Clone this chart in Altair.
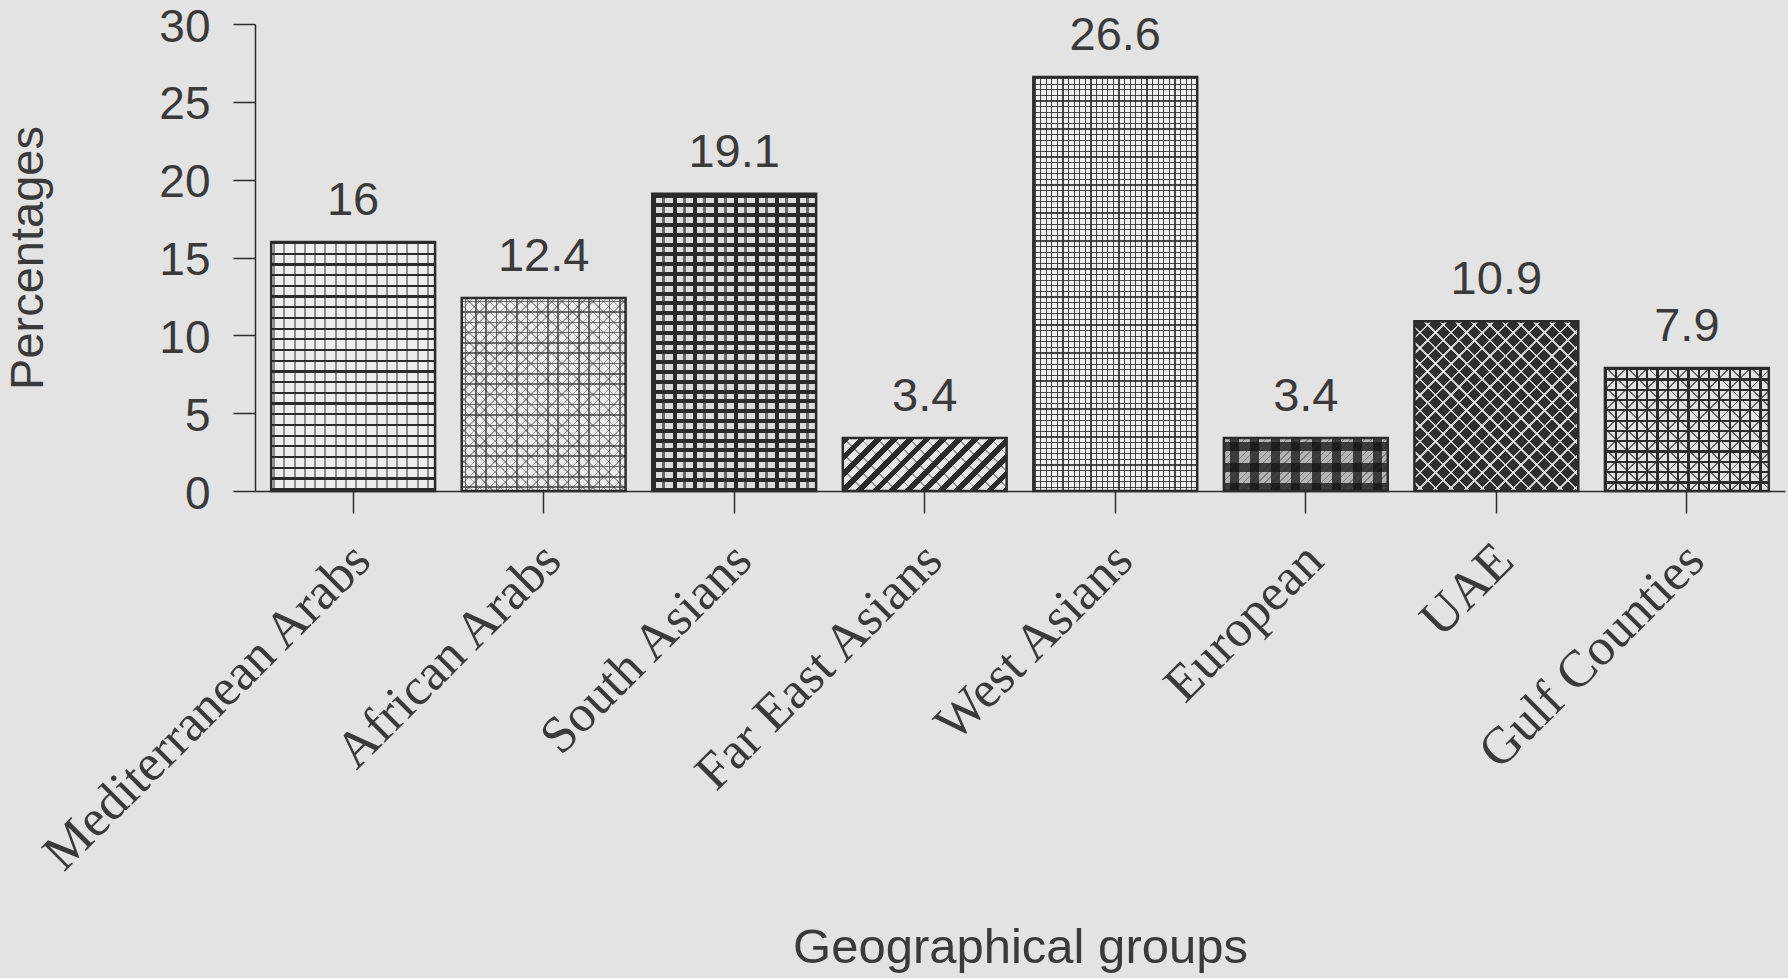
import math
import altair as alt
import pandas as pd

# ---------------- data ----------------
groups = ["Mediterranean Arabs", "African Arabs", "South Asians", "Far East Asians",
          "West Asians", "European", "UAE", "Gulf Counties"]
values = [16, 12.4, 19.1, 3.4, 26.6, 3.4, 10.9, 7.9]
y_ticks = [0, 5, 10, 15, 20, 25, 30]

df = pd.DataFrame({"group": groups, "value": values})

# ---------------- layout / style ----------------
PLOT_W, PLOT_H = 1530, 467
Y_MAX = 30
P_IN, P_OUT = 0.14, 0.085
STEP = PLOT_W / (len(groups) - P_IN + 2 * P_OUT)
BAR_W = STEP * (1 - P_IN)
PX_PER_UNIT = PLOT_H / Y_MAX

INK = "#2b2b2b"
TEXT = "#3a3a3a"
BG = "#e3e3e3"
CLEAR = "rgba(0,0,0,0)"

base_fill = ["#ededed", "#ececec", "#dcdcdc", "#e6e6e6",
             "#efefef", "#b4b4b4", "#2f2f2f", "#e2e2e2"]

# pattern overlays: (direction, period px, thickness px, colour, phase px)
overlays = [
    [("h", 10.7, 2.2, INK, 0), ("v", 10.25, 2.0, "rgba(43,43,43,0.5)", 2)],
    [("h", 10.3, 1.5, "rgba(43,43,43,0.65)", 3), ("v", 10.3, 1.5, "rgba(43,43,43,0.65)", 3),
     ("d1", 7.3, 1.0, "rgba(43,43,43,0.4)", 0), ("d2", 7.3, 1.0, "rgba(43,43,43,0.4)", 0)],
    [("h", 9.8, 4.0, INK, 0), ("v", 20.5, 4.0, INK, 0), ("v", 20.5, 3.0, "rgba(43,43,43,0.65)", 10)],
    [("d1", 11.5, 5.5, INK, 0), ("d2", 11.5, 1.2, "rgba(43,43,43,0.5)", 3)],
    [("h", 5.6, 1.3, "rgba(43,43,43,0.85)", 1), ("v", 5.6, 1.3, "rgba(43,43,43,0.85)", 1)],
    [("h", 20.5, 9, "rgba(15,15,15,0.72)", 4), ("v", 20.5, 9, "rgba(15,15,15,0.72)", 6),
     ("d1", 5, 1, "rgba(43,43,43,0.4)", 0)],
    [("d1", 11, 1.8, "rgba(235,235,235,0.85)", 0), ("d2", 11, 1.8, "rgba(235,235,235,0.85)", 5)],
    [("h", 10.3, 2.2, INK, 0), ("v", 10.3, 2.2, INK, 0),
     ("d1", 14.6, 1.3, "rgba(43,43,43,0.7)", 0), ("d2", 14.6, 1.3, "rgba(43,43,43,0.7)", 0)],
]


def stripe_stops(L, period, thick, color, phase):
    stops = [{"offset": 0, "color": CLEAR}]
    pos = phase - period
    while pos < L:
        a = max(pos, 0.0)
        b = min(pos + thick, L)
        if b > a:
            a_ = round(a / L, 5)
            b_ = round(b / L, 5)
            stops += [{"offset": a_, "color": CLEAR}, {"offset": a_, "color": color},
                      {"offset": b_, "color": color}, {"offset": b_, "color": CLEAR}]
        pos += period
    stops.append({"offset": 1, "color": CLEAR})
    return stops


def gradient(direction, w, h, period, thick, color, phase):
    if direction == "h":
        L = h
        g = dict(x1=0, y1=0, x2=0, y2=1)
    elif direction == "v":
        L = w
        g = dict(x1=0, y1=0, x2=1, y2=0)
    else:
        r = h / w
        s = (1 + r) / (1 + r * r)
        L = (w + h) / math.sqrt(2)
        if direction == "d1":
            g = dict(x1=0, y1=0, x2=s, y2=s * r)
        else:
            g = dict(x1=0, y1=1, x2=s, y2=1 - s * r)
    g = {k: round(v, 5) for k, v in g.items()}
    g["gradient"] = "linear"
    g["stops"] = stripe_stops(L, period, thick, color, phase)
    return g


X = alt.X(
    "group:N",
    scale=alt.Scale(domain=groups, paddingInner=P_IN, paddingOuter=P_OUT),
    axis=alt.Axis(
        title="Geographical groups",
        titleFont="Liberation Sans", titleFontSize=49, titleFontWeight="normal",
        titleColor=TEXT, titleY=471, titleBaseline="alphabetic",
        labelFont="Liberation Serif", labelFontSize=52, labelColor=TEXT,
        labelAngle=-45, labelAlign="right", labelBaseline="alphabetic",
        labelPadding=50, labelOffset=20, labelLimit=1000, labelOverlap=False,
        labelBound=False,
        tickSize=22, tickColor=INK, tickWidth=1.5,
        domainColor=INK, domainWidth=1.5,
    ),
)
Y = alt.Y(
    "value:Q",
    scale=alt.Scale(domain=[0, Y_MAX], nice=False, zero=True),
    axis=alt.Axis(
        values=y_ticks, grid=False,
        title="Percentages",
        titleFont="Liberation Sans", titleFontSize=47, titleFontWeight="normal",
        titleColor=TEXT, titleX=-203, titleBaseline="bottom",
        labelFont="Liberation Sans", labelFontSize=46, labelColor=TEXT,
        labelPadding=23, labelFlush=False, labelOffset=3,
        tickSize=22, tickColor=INK, tickWidth=1.5,
        domainColor=INK, domainWidth=1.5,
    ),
)

base = alt.Chart(df)

layers = []
for i, g in enumerate(groups):
    h = values[i] * PX_PER_UNIT
    layers.append(
        base.transform_filter(alt.datum.group == g)
        .mark_bar(fill=base_fill[i], strokeWidth=0)
        .encode(x=X, y=Y)
    )
    for (d, period, thick, color, phase) in overlays[i]:
        layers.append(
            base.transform_filter(alt.datum.group == g)
            .mark_bar(fill=gradient(d, BAR_W, h, period, thick, color, phase), strokeWidth=0)
            .encode(x=X, y=Y)
        )

outline = base.mark_bar(filled=False, stroke=INK, strokeWidth=2.5).encode(x=X, y=Y)
labels = base.mark_text(
    font="Liberation Sans", fontSize=47, color=TEXT, baseline="alphabetic", dy=-27
).encode(x=X, y=Y, text=alt.Text("value:Q", format="~g"))

chart = (
    alt.layer(*layers, outline, labels)
    .properties(
        width=PLOT_W, height=PLOT_H,
        autosize=alt.AutoSizeParams(type="none"),
        padding={"left": 255, "top": 24, "right": 3, "bottom": 487},
        background=BG,
    )
    .configure_view(stroke=None)
)

chart.save("out.html", embed_options={"renderer": "svg", "actions": False})
